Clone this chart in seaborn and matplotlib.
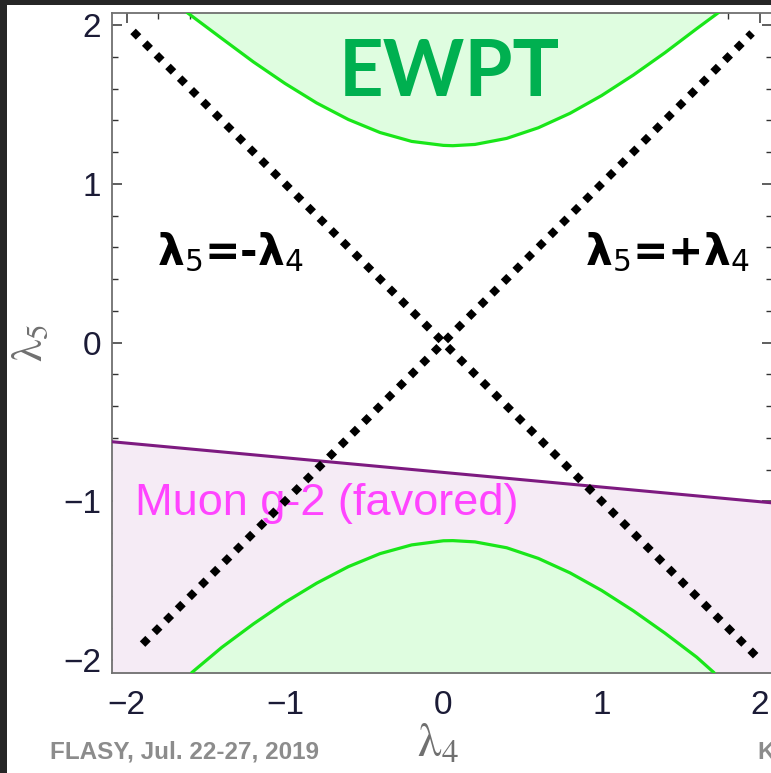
import numpy as np
import pandas as pd
import matplotlib
matplotlib.use("Agg")
import matplotlib.pyplot as plt
from matplotlib.patches import Rectangle
from matplotlib.ticker import MultipleLocator
import seaborn as sns

# Upper EWPT boundary in the (lambda4, lambda5) plane
ewpt_upper_l4 = [-1.62, -1.40, -1.20, -1.00, -0.80, -0.60, -0.40, -0.20, 0.00, 0.06,
                 0.20, 0.40, 0.60, 0.80, 1.00, 1.20, 1.40, 1.60, 1.74]
ewpt_upper_l5 = [2.08, 1.916, 1.768, 1.632, 1.509, 1.405, 1.323, 1.267, 1.242, 1.240,
                 1.248, 1.286, 1.353, 1.444, 1.556, 1.685, 1.826, 1.977, 2.08]

# Lower EWPT boundary
ewpt_lower_l4 = [-1.59, -1.40, -1.20, -1.00, -0.80, -0.60, -0.40, -0.20, 0.00, 0.06,
                 0.20, 0.40, 0.60, 0.80, 1.00, 1.20, 1.40, 1.60, 1.71]
ewpt_lower_l5 = [-2.08, -1.921, -1.773, -1.637, -1.516, -1.412, -1.330, -1.275, -1.249, -1.248,
                 -1.256, -1.293, -1.360, -1.451, -1.562, -1.690, -1.831, -1.982, -2.08]

# Muon g-2 favoured boundary (region below the line)
g2_l4 = [-2.093, 2.076]
g2_l5 = [-0.625, -1.01]

# Reference lines lambda5 = -lambda4 and lambda5 = +lambda4
minus_l4 = [-1.96, 1.975]
minus_l5 = [1.96, -1.975]
plus_l4 = [-1.90, 1.95]
plus_l5 = [-1.90, 1.95]

xticks = [-2, -1, 0, 1, 2]
yticks = [-2, -1, 0, 1, 2]

XLIM = (-2.093, 2.076)
YLIM = (-2.082, 2.076)

sns.set_theme(style="white")
plt.rcParams["font.family"] = ["Liberation Sans", "DejaVu Sans"]
plt.rcParams["mathtext.fontset"] = "dejavusans"

fig = plt.figure(figsize=(7.71, 7.73), dpi=100)
fig.patch.set_facecolor("white")

# dark slide border along the top and left edge
fig.patches.append(Rectangle((0, 0), 7 / 771, 1, transform=fig.transFigure,
                             facecolor="#262626", edgecolor="none", zorder=0))
fig.patches.append(Rectangle((0, 1 - 5 / 773), 1, 5 / 773, transform=fig.transFigure,
                             facecolor="#262626", edgecolor="none", zorder=0))

ax = fig.add_axes([112 / 771, 100 / 773, 660 / 771, 660 / 773])
ax.set_facecolor("white")

# shaded regions
ax.fill_between(g2_l4, g2_l5, YLIM[0] - 0.1, color="#f5ebf5", lw=0, zorder=1)
ax.fill_between(ewpt_upper_l4, ewpt_upper_l5, YLIM[1] + 0.1, color="#dffde0", lw=0, zorder=2)
ax.fill_between(ewpt_lower_l4, ewpt_lower_l5, YLIM[0] - 0.1, color="#dffde0", lw=0, zorder=2)

# boundaries
up = pd.DataFrame({"l4": ewpt_upper_l4, "l5": ewpt_upper_l5})
lo = pd.DataFrame({"l4": ewpt_lower_l4, "l5": ewpt_lower_l5})
g2 = pd.DataFrame({"l4": g2_l4, "l5": g2_l5})
sns.lineplot(data=up, x="l4", y="l5", sort=False, color="#19e619", lw=2.3, ax=ax, zorder=3)
sns.lineplot(data=lo, x="l4", y="l5", sort=False, color="#19e619", lw=2.3, ax=ax, zorder=3)
sns.lineplot(data=g2, x="l4", y="l5", sort=False, color="#7d1a80", lw=2.2, ax=ax, zorder=3)

# diamond-dotted diagonals
for xs, ys in [(minus_l4, minus_l5), (plus_l4, plus_l5)]:
    ax.plot(xs, ys, color="black", lw=5.6, dashes=(1, 1.12),
            dash_capstyle="butt", zorder=6)

ax.set_xlim(*XLIM)
ax.set_ylim(*YLIM)
ax.set_xticks(xticks)
ax.set_yticks(yticks)
ax.xaxis.set_minor_locator(MultipleLocator(0.2))
ax.yaxis.set_minor_locator(MultipleLocator(0.2))
ax.tick_params(which="both", direction="in", top=True, right=True, bottom=True, left=True,
               colors="#333333", labelcolor="#1b1b36", labelsize=24)
ax.tick_params(which="major", length=7.5, width=1.1)
ax.tick_params(which="minor", length=4.3, width=1.0)
ax.tick_params(axis="x", which="major", pad=12)
ax.tick_params(axis="y", which="major", pad=8)
for s in ax.spines.values():
    s.set_color("#707070")
    s.set_linewidth(1.3)
ax.set_xlabel("")
ax.set_ylabel("")

# annotations
ax.text(0.035, 1.69, "EWPT", color="#00b050", fontsize=56, fontweight="bold",
        family=["Lato", "DejaVu Sans"], ha="center", va="center", zorder=7)
ax.text(-1.347, 0.565, r"$\mathbf{\lambda}_\mathsf{5}$=-$\mathbf{\lambda}_\mathsf{4}$",
        color="black", fontsize=30.5, fontweight="bold", family="DejaVu Sans",
        ha="center", va="center", zorder=7)
ax.text(1.418, 0.565, r"$\mathbf{\lambda}_\mathsf{5}$=+$\mathbf{\lambda}_\mathsf{4}$",
        color="black", fontsize=30.5, fontweight="bold", family="DejaVu Sans",
        ha="center", va="center", zorder=7)
ax.text(-1.95, -1.011, "Muon g-2 (favored)", color="#ff44ff", fontsize=32.5,
        ha="left", va="center", zorder=5)

# axis titles
fig.text(0.568, 0.036, r"$\mathrm{\lambda}_4$", color="#707070", fontsize=34,
         ha="center", va="center", math_fontfamily="stix")
fig.text(0.040, 0.556, r"$\mathrm{\lambda}_5$", color="#707070", fontsize=32, rotation=90,
         ha="center", va="center", math_fontfamily="stix")

# footer
fig.text(50 / 771, 0.027, "FLASY, Jul. 22-27, 2019", color="#8c8c8c", fontsize=17.5,
         fontweight="bold", ha="left", va="center")
fig.text(757 / 771, 0.027, "K", color="#8c8c8c", fontsize=17.5,
         fontweight="bold", ha="left", va="center")

fig.savefig("out.png", dpi=100)
